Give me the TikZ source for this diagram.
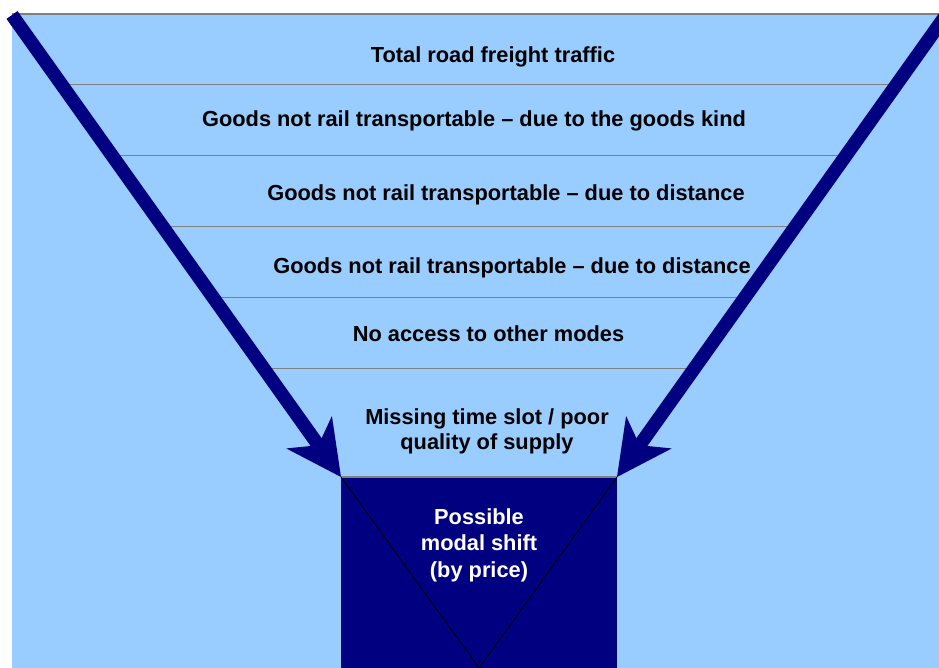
\documentclass[tikz,border=0pt]{standalone}
\usepackage{fontspec}
\setmainfont{Liberation Sans}
\usetikzlibrary{arrows.meta}
\definecolor{skyfill}{HTML}{99CCFF}
\definecolor{navy}{HTML}{000080}
\definecolor{rulegray}{HTML}{808080}

\begin{document}
\begin{tikzpicture}[x=1pt,y=-1pt,
  band/.style={draw=rulegray,line width=1pt},
  label/.style={font=\bfseries\fontsize{21.8}{24.5}\selectfont,anchor=base,inner sep=0pt,align=center},
  whitelabel/.style={label,text=white,font=\bfseries\fontsize{21.8}{26.5}\selectfont},
  funnelarrow/.style={draw=navy,line width=13.5pt,
    -{Stealth[length=55pt,width=56pt,inset=16pt,line width=0pt]}},
]
\useasboundingbox (0,0) rectangle (939,668);

% background panel with its top rule
\fill[skyfill] (12,14) rectangle (960,680);
\draw[rulegray,line width=2pt] (12,14) -- (960,14);

% arrow end points
\coordinate (Lstart) at (12,15);
\coordinate (Ltip)   at (341,477);
\coordinate (Rstart) at (946,15);
\coordinate (Rtip)   at (617,477);
\coordinate (BR)     at (617,668);
\coordinate (Vbot)   at (479,668);

% horizontal band separators between the two arrows
\foreach \y/\n in {85/a,156/b,227/c,298/d,369/e}{
  \path (Lstart) -- (Ltip) coordinate[pos={(\y-15)/462}] (l\n);
  \path (Rstart) -- (Rtip) coordinate[pos={(\y-15)/462}] (r\n);
  \draw[band] (l\n) -- (r\n);
}

% outlet box with the inner V
\fill[navy] (Ltip) rectangle (BR);
\draw[rulegray,line width=1.5pt] (Ltip) -- (Rtip);
\draw[black,line width=0.8pt] (Ltip) -- (Vbot) -- (Rtip);

% converging arrows
\draw[funnelarrow] (Lstart) -- (Ltip);
\draw[funnelarrow] (Rstart) -- (Rtip);

% band labels (multi-line labels sit on the baseline of their last line)
\node[label] (t1) at (493,63)  {Total road freight traffic};
\node[label] (t2) at (474,127) {Goods not rail transportable – due to the goods kind};
\node[label] (t3) at (506,201) {Goods not rail transportable – due to distance};
\node[label] (t4) at (512,273) {Goods not rail transportable – due to distance};
\node[label] (t5) at (488.5,341) {No access to other modes};
\node[label] (t6) at (487,449) {Missing time slot / poor\\quality of supply};
\node[whitelabel] (t7) at (479,577) {Possible\\modal shift\\(by price)};
\end{tikzpicture}
\end{document}
